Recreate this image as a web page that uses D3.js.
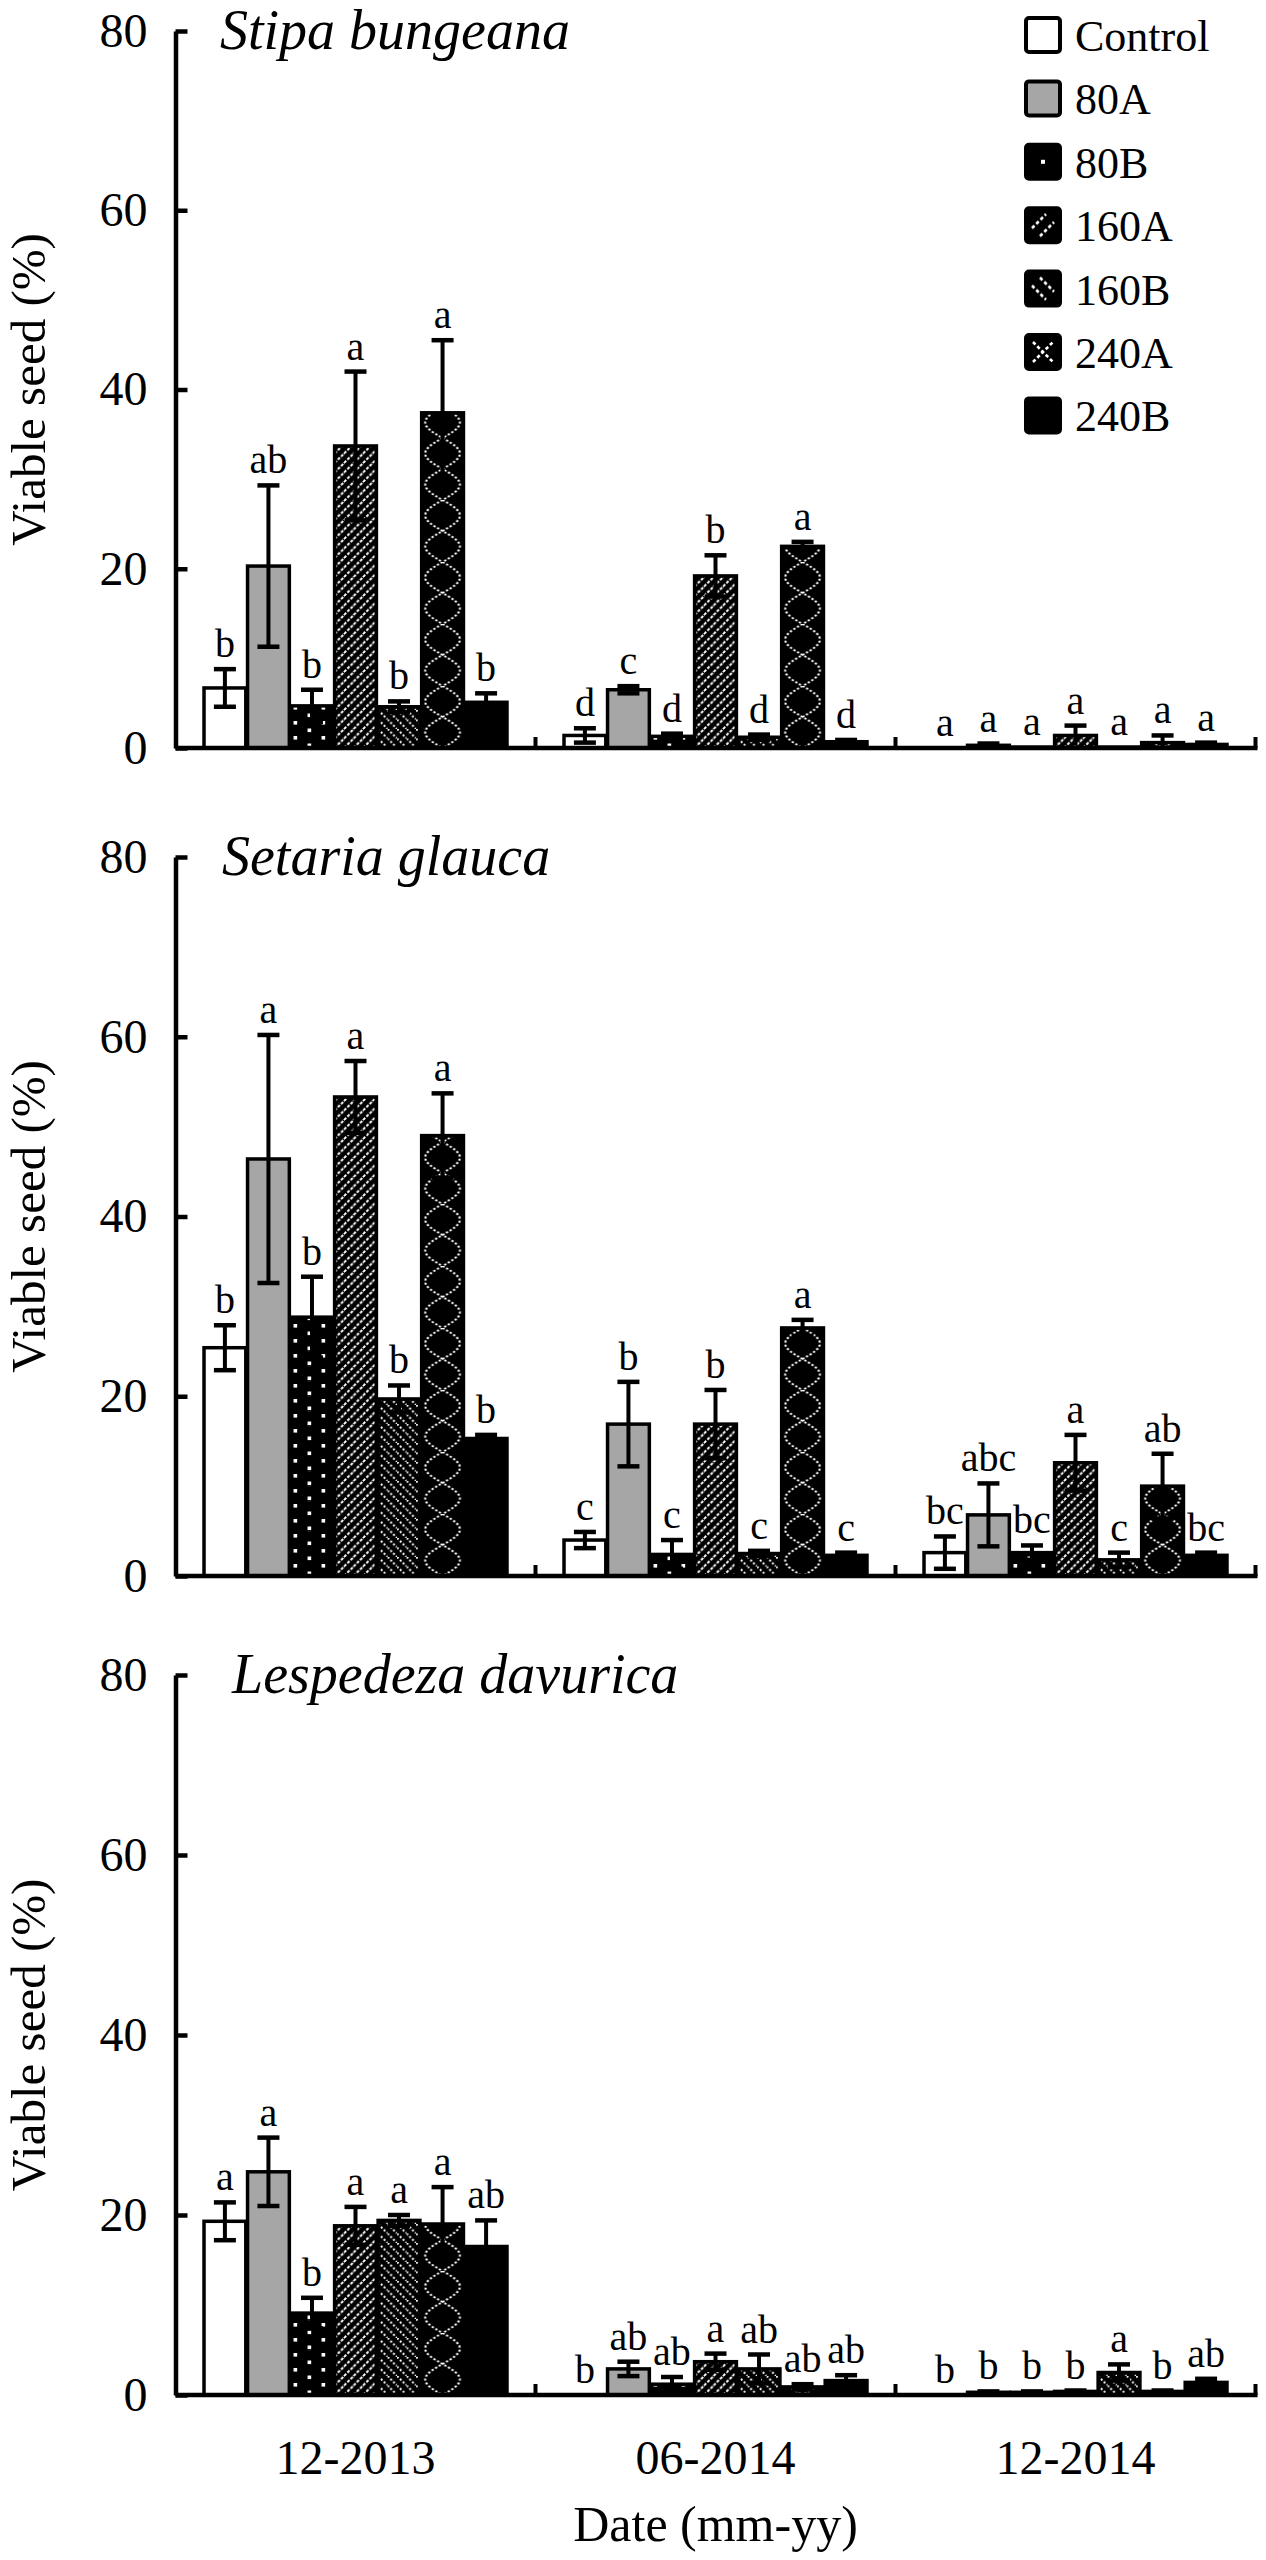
<!DOCTYPE html>
<html><head><meta charset="utf-8">
<script src="https://cdn.jsdelivr.net/npm/d3@7"></script>
<style>
body{margin:0;background:#fff}
svg text{font-family:"Liberation Serif","Times New Roman","DejaVu Serif",serif;}
</style>
</head><body>
<svg id="chart" width="1266" height="2560"></svg>
<script>
// ---------- data ----------
const treatments = ["Control","80A","80B","160A","160B","240A","240B"];
const dates = ["12-2013","06-2014","12-2014"];
const yTicks = [0,20,40,60,80];
const speciesNames = ["Stipa bungeana","Setaria glauca","Lespedeza davurica"];

const stipaMean = [
  [6.7, 20.3, 4.7, 33.7, 4.6, 37.4, 5.1],
  [1.4, 6.5, 1.3, 19.2, 1.2, 22.5, 0.7],
  [0, 0.3, 0.1, 1.4, 0.1, 0.6, 0.4]];
const stipaSE = [
  [2.1, 9.0, 1.8, 8.3, 0.6, 8.1, 1.0],
  [0.8, 0.4, 0.3, 2.3, 0.3, 0.5, 0.2],
  [0, 0.2, 0, 1.1, 0, 0.8, 0.2]];
const stipaLetters = [
  ["b","ab","b","a","b","a","b"],
  ["d","c","d","b","d","a","d"],
  ["a","a","a","a","a","a","a"]];

const setariaMean = [
  [25.4, 46.4, 28.8, 53.3, 19.7, 49.0, 15.3],
  [4.0, 16.9, 2.4, 16.9, 2.5, 27.6, 2.3],
  [2.6, 6.8, 2.6, 12.6, 1.8, 10.0, 2.3]];
const setariaSE = [
  [2.5, 13.8, 4.5, 4.0, 1.5, 4.7, 0.4],
  [0.9, 4.7, 1.6, 3.8, 0.3, 0.9, 0.3],
  [1.8, 3.5, 0.8, 3.1, 0.8, 3.6, 0.3]];
const setariaLetters = [
  ["b","a","b","a","b","a","b"],
  ["c","b","c","b","c","a","c"],
  ["bc","abc","bc","a","c","ab","bc"]];

const lespedezaMean = [
  [19.3, 24.8, 9.1, 18.8, 19.4, 19.0, 16.5],
  [0, 2.9, 1.2, 3.7, 2.9, 0.9, 1.6],
  [0, 0.3, 0.3, 0.4, 2.5, 0.4, 1.4]];
const lespedezaSE = [
  [2.1, 3.8, 1.7, 2.1, 0.6, 4.1, 2.9],
  [0, 0.8, 0.8, 0.9, 1.6, 0.3, 0.6],
  [0, 0.1, 0.1, 0.1, 0.9, 0.1, 0.4]];
const lespedezaLetters = [
  ["a","a","b","a","a","a","ab"],
  ["b","ab","ab","a","ab","ab","ab"],
  ["b","b","b","b","a","b","ab"]];

const xTitle = "Date (mm-yy)";
const yTitle = "Viable seed (%)";

// ---------- layout ----------
const FONT = "Liberation Serif, Times New Roman, DejaVu Serif, serif";
const svg = d3.select("#chart");
svg.append("rect").attr("width",1266).attr("height",2560).attr("fill","#fff");
const defs = svg.append("defs");

const axisX0 = 175.5, axisX1 = 1255.5;
const panelLayout = [
  {top:31,  bottom:748,  titleX:220},
  {top:857, bottom:1576, titleX:222},
  {top:1675,bottom:2395, titleX:232}
];
const panelData = [
  {name:speciesNames[0], mean:stipaMean, se:stipaSE, letters:stipaLetters},
  {name:speciesNames[1], mean:setariaMean, se:setariaSE, letters:setariaLetters},
  {name:speciesNames[2], mean:lespedezaMean, se:lespedezaSE, letters:lespedezaLetters}
];

const xGroup = d3.scaleBand().domain(dates).range([axisX0, axisX1]).padding(0);
const xTreat = d3.scaleBand().domain(treatments).range([0, xGroup.bandwidth()])
  .paddingInner(0.04).paddingOuter(0.655);

let pid = 0;
function newPattern(x0, y0, w, h) {
  const id = "pat" + (pid++);
  const p = defs.append("pattern").attr("id",id).attr("patternUnits","userSpaceOnUse")
    .attr("x",x0).attr("y",y0).attr("width",w).attr("height",h);
  p.append("rect").attr("width",w).attr("height",h).attr("fill","#000");
  return {id, p};
}
function makeFill(treat, x0, y0, w) {
  if (treat === "Control") return "#ffffff";
  if (treat === "80A") return "#a6a6a6";
  if (treat === "240B") return "#000000";
  let r;
  if (treat === "80B") {
    r = newPattern(x0, y0, 28, 15);
    r.p.append("rect").attr("x",2.5).attr("y",3).attr("width",3.6).attr("height",3.6).attr("fill","#fff");
    r.p.append("rect").attr("x",16.5).attr("y",10.5).attr("width",3.6).attr("height",3.6).attr("fill","#fff");
  } else if (treat === "160A") {
    const s = 9.5;
    r = newPattern(x0, y0, s, s);
    r.p.append("path").attr("d",`M0,${s} L${s},0 M-2,2 L2,-2 M${s-2},${s+2} L${s+2},${s-2}`)
      .attr("stroke","#fff").attr("stroke-width",2).attr("stroke-dasharray","3,1.6");
  } else if (treat === "160B") {
    const s = 9.5;
    r = newPattern(x0, y0, s, s);
    r.p.append("path").attr("d",`M0,0 L${s},${s} M-2,${s-2} L2,${s+2} M${s-2},-2 L${s+2},2`)
      .attr("stroke","#fff").attr("stroke-width",2).attr("stroke-dasharray","2,2");
  } else if (treat === "240A") {
    const P = 62, A = w/2 - 3.5;
    r = newPattern(x0, y0, w, P);
    const ys = d3.range(0, P + 0.5, 1);
    [1,-1].forEach(sg => {
      const line = d3.line().x(y => w/2 + sg*A*Math.sin(2*Math.PI*y/P)).y(y => y);
      r.p.append("path").attr("d", line(ys)).attr("fill","none")
        .attr("stroke","#fff").attr("stroke-width",2).attr("stroke-dasharray","2.2,2");
    });
  }
  return `url(#${r.id})`;
}
// legend swatch fills (single motif, as in the reference legend)
function legendFill(treat, x0, y0, s) {
  if (treat === "Control") return "#ffffff";
  if (treat === "80A") return "#a6a6a6";
  if (treat === "240B") return "#000000";
  const r = newPattern(x0, y0, s, s);
  const c = s/2;
  const st = sel => sel.attr("fill","none").attr("stroke","#fff").attr("stroke-width",2.6).attr("stroke-dasharray","3.5,2.5");
  if (treat === "80B") {
    r.p.append("rect").attr("x",c-2).attr("y",c-2).attr("width",4).attr("height",4).attr("fill","#fff");
  } else if (treat === "160A") {
    st(r.p.append("path").attr("d",`M${c-11},${c+3} L${c+3},${c-11} M${c-3},${c+11} L${c+11},${c-3}`));
  } else if (treat === "160B") {
    st(r.p.append("path").attr("d",`M${c-11},${c-3} L${c+3},${c+11} M${c-3},${c-11} L${c+11},${c+3}`));
  } else if (treat === "240A") {
    st(r.p.append("path").attr("d",`M${c-10},${c-10} L${c+10},${c+10} M${c-10},${c+10} L${c+10},${c-10}`));
  }
  return `url(#${r.id})`;
}

panelLayout.forEach((L, pi) => {
  const D = panelData[pi];
  const g = svg.append("g");
  const y = d3.scaleLinear().domain([0,80]).range([L.bottom, L.top]);
  const bw = xTreat.bandwidth();

  // bars
  dates.forEach((dt, gi) => {
    treatments.forEach((tr, ti) => {
      const v = D.mean[gi][ti];
      const bx = xGroup(dt) + xTreat(tr);
      g.append("rect")
        .attr("x", bx).attr("y", y(v))
        .attr("width", bw).attr("height", y(0) - y(v))
        .attr("fill", makeFill(tr, bx, y(0), bw))
        .attr("stroke","#000").attr("stroke-width",3.5);
    });
  });

  // error bars and letters
  dates.forEach((dt, gi) => {
    treatments.forEach((tr, ti) => {
      const v = D.mean[gi][ti], e = D.se[gi][ti];
      const cx = xGroup(dt) + xTreat(tr) + bw/2;
      if (e > 0) {
        const lo = Math.max(0, v - e), hi = v + e;
        g.append("line").attr("x1",cx).attr("x2",cx).attr("y1",y(lo)).attr("y2",y(hi))
          .attr("stroke","#000").attr("stroke-width",4);
        g.append("line").attr("x1",cx-11).attr("x2",cx+11).attr("y1",y(hi)).attr("y2",y(hi))
          .attr("stroke","#000").attr("stroke-width",4.5);
        if (v - e > 0.3) {
          g.append("line").attr("x1",cx-11).attr("x2",cx+11).attr("y1",y(lo)).attr("y2",y(lo))
            .attr("stroke","#000").attr("stroke-width",4.5);
        }
      }
      g.append("text").attr("x", cx).attr("y", y(v + e) - 12)
        .attr("text-anchor","middle").attr("font-family",FONT).attr("font-size",40)
        .attr("fill","#000").text(D.letters[gi][ti]);
    });
  });

  // y axis
  const yAxis = d3.axisLeft(y).tickValues(yTicks).tickSizeInner(-12).tickSizeOuter(0).tickPadding(28);
  const ya = g.append("g").attr("transform",`translate(${axisX0},0)`).call(yAxis)
    .attr("font-family",FONT);
  ya.select(".domain").attr("stroke","#000").attr("stroke-width",4.5);
  ya.selectAll(".tick line").attr("stroke","#000").attr("stroke-width",4.5);
  ya.selectAll(".tick text").attr("font-family",FONT).attr("font-size",48).attr("fill","#000");

  // x axis
  const xAxis = d3.axisBottom(xGroup).tickSize(0).tickPadding(45)
    .tickFormat(pi === 2 ? (d => d) : () => "");
  const xa = g.append("g").attr("transform",`translate(0,${L.bottom})`).call(xAxis)
    .attr("font-family",FONT);
  xa.select(".domain").attr("stroke","#000").attr("stroke-width",4.5)
    .attr("d", `M${axisX0},0H${axisX1 + 2}`);
  xa.selectAll(".tick text").attr("font-family",FONT).attr("font-size",48).attr("fill","#000");
  // group boundary ticks
  const bounds = dates.slice(1).map(d => xGroup(d)).concat([axisX1]);
  g.selectAll(".gtick").data(bounds).enter().append("line")
    .attr("x1", d => d).attr("x2", d => d)
    .attr("y1", L.bottom).attr("y2", L.bottom - 11)
    .attr("stroke","#000").attr("stroke-width",4);

  // species title
  g.append("text").attr("x", L.titleX).attr("y", L.top + 18)
    .attr("font-family",FONT).attr("font-style","italic").attr("font-size",56)
    .attr("fill","#000").text(D.name);

  // y title
  const cy = (L.top + L.bottom)/2;
  g.append("text").attr("transform",`translate(45,${cy}) rotate(-90)`)
    .attr("text-anchor","middle").attr("font-family",FONT).attr("font-size",49)
    .attr("fill","#000").text(yTitle);
});

// x title
svg.append("text").attr("x",(axisX0+axisX1)/2).attr("y",2541)
  .attr("text-anchor","middle").attr("font-family",FONT).attr("font-size",50)
  .attr("fill","#000").text(xTitle);

// legend
const leg = svg.append("g");
treatments.forEach((tr, i) => {
  const cy = 35 + i*63.4;
  const sx = 1026, s = 34;
  leg.append("rect").attr("x",sx).attr("y",cy - s/2).attr("width",s).attr("height",s)
    .attr("rx",3).attr("fill", legendFill(tr, sx, cy - s/2, s))
    .attr("stroke","#000").attr("stroke-width",4);
  leg.append("text").attr("x",1075).attr("y",cy + 16)
    .attr("font-family",FONT).attr("font-size",44).attr("fill","#000").text(tr);
});
</script>
</body></html>
